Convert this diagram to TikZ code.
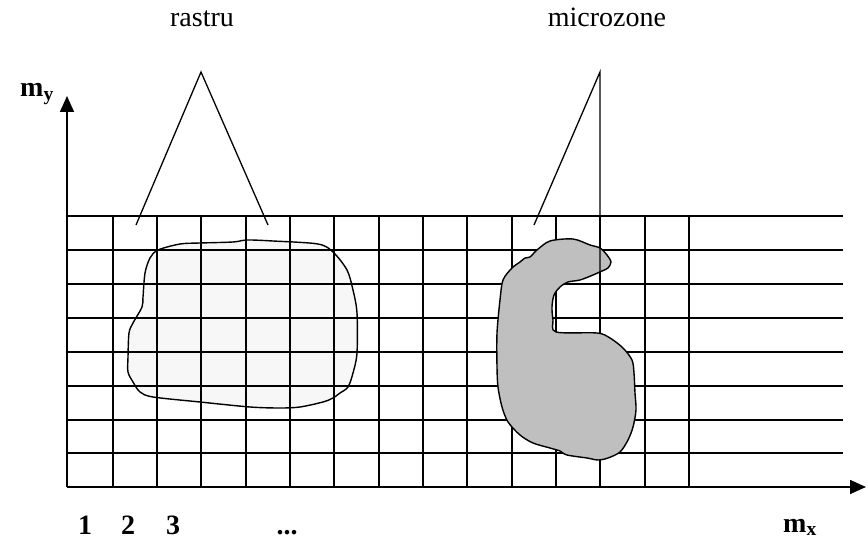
\documentclass[tikz,border=0pt]{standalone}
\usepackage{fontspec}
\setmainfont{Liberation Serif}
\usetikzlibrary{arrows.meta}
\begin{document}
\begin{tikzpicture}[x=1pt,y=-1pt,
  gridline/.style={line width=1.5pt},
  ptr/.style={line width=1.3pt},
  axis/.style={line width=1.5pt,-{Triangle[length=16pt,width=14pt]}},
  lbl/.style={font=\fontsize{28}{32}\selectfont, inner sep=0pt, anchor=base},
  axlbl/.style={font=\fontsize{28}{32}\selectfont\bfseries, inner sep=0pt, anchor=base},
  blob/.style={line width=1.4pt}]
\useasboundingbox (0,0) rectangle (868,540);
% light blob (behind the grid)
\filldraw[blob, fill=black!3] plot[smooth cycle, tension=0.5] coordinates {
 (150,258) (158,250) (180,244) (200,243) (233,242) (247,240) (273,241) (318,244)
 (333,252) (347,270) (353,290) (357,313) (357,353) (353,373) (348,387) (340,393)
 (333,398) (323,402) (300,407) (280,408) (250,407) (200,402) (153,397) (140,392)
 (133,382) (128,372) (128,357) (129,333) (133,323) (142,307) (143,297) (145,273)};
% grid
\foreach \yy in {216,250,284,318,352,386,420,453} {
  \draw[gridline] (68,\yy) -- (843,\yy);
}
\foreach \xx in {113,157,201,246,290,334,379,423,467,512,556,600,645,689} {
  \draw[gridline] (\xx,216) -- (\xx,487);
}
% axes
\coordinate (O) at (67,487);
\coordinate (xend) at (866,487);
\coordinate (yend) at (67,96);
\draw[axis] (O) -- (xend);
\draw[axis] (O) -- (yend);
% grey blob
\filldraw[blob, fill=black!25] plot[smooth cycle, tension=0.5] coordinates {
 (550,241) (573,239) (590,245) (600,248) (607,255) (611,262) (608,268) (602,271)
 (593,275) (580,280) (568,282) (560,287) (554,295) (552,307) (553,320) (556,332)
 (597,333) (610,338) (623,348) (632,360) (634,373) (635,393) (636,410) (633,427)
 (628,440) (620,452) (608,458) (598,460) (587,458) (567,455) (560,451) (550,448)
 (533,443) (520,435) (508,422) (502,407) (498,387) (497,367) (497,333) (500,300)
 (503,280) (512,268) (520,262) (525,258) (530,257) (537,250)};
% pointer labels
\node[lbl] (rastru) at (202,27) {rastru};
\node[lbl] (micro) at (607,27) {microzone};
\coordinate (ra) at (201,72);
\coordinate (ral) at (136,225);
\coordinate (rar) at (268,225);
\coordinate (ma) at (600,72);
\coordinate (mal) at (534,225);
\coordinate (mad) at (600,333);
\draw[ptr] (ral) -- (ra) -- (rar);
\draw[ptr] (mal) -- (ma) -- (mad);
% axis labels
\node[axlbl, anchor=base west] (my) at (20,97) {m\textsubscript{y}};
\node[axlbl] (n1) at (85,534) {1};
\node[axlbl] (n2) at (128,534) {2};
\node[axlbl] (n3) at (173,534) {3};
\node[axlbl] (dots) at (287,534) {...};
\node[axlbl] (mx) at (800,532) {m\textsubscript{x}};
\end{tikzpicture}
\end{document}
